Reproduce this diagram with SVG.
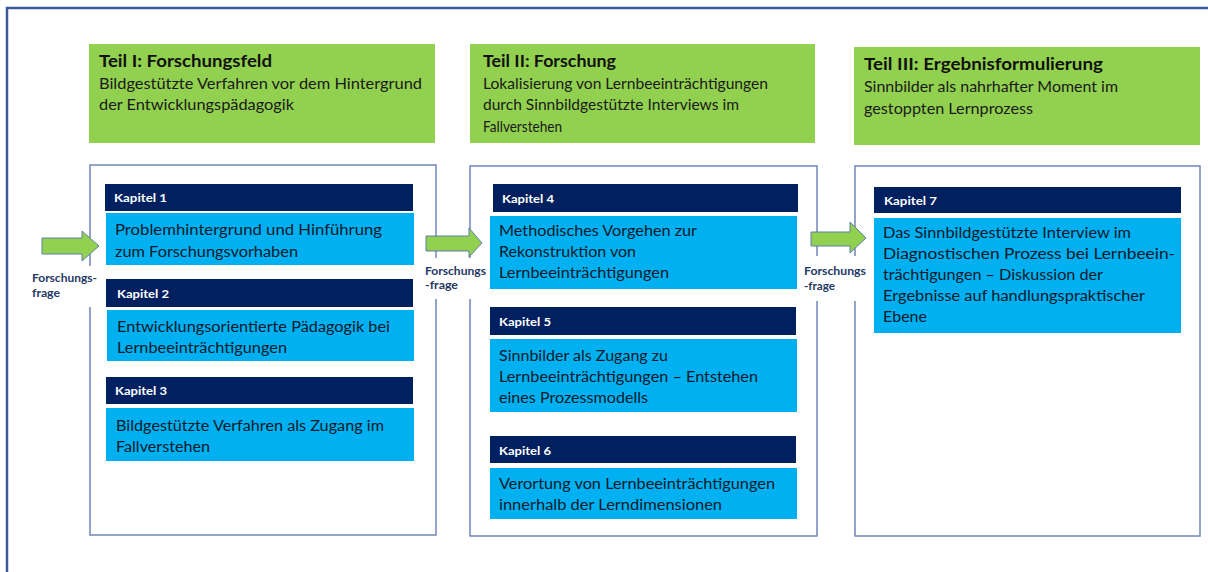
<svg xmlns="http://www.w3.org/2000/svg" width="1208" height="572" viewBox="0 0 1208 572">
<style>
.frame{fill:none;stroke:#3c5a9a;stroke-width:2.5}
.green{fill:#92d050}
.box{fill:#fff;stroke:#7186b8;stroke-width:1.5}
.hdr{fill:#002060}
.cnt{fill:#00b0f0}
.gap{fill:#fff}
.arrow{fill:#92d050;stroke:#5e7fa8;stroke-width:1}
.t{font-family:Lato,"Liberation Sans",sans-serif;font-weight:bold;font-size:17px;fill:#111}
.s{font-family:Lato,"Liberation Sans",sans-serif;font-size:15px;fill:#1a1a1a}
.k{font-family:Lato,"Liberation Sans",sans-serif;font-weight:bold;font-size:12px;fill:#fff}
.c{font-family:Lato,"Liberation Sans",sans-serif;font-size:15.5px;fill:#0b1a2c}
.f{font-family:Lato,"Liberation Sans",sans-serif;font-weight:bold;font-size:11px;fill:#1f3864}
</style>
<rect width="1208" height="572" fill="#fff"/>
<path class="frame" d="M7 572 V8 H1208"/>

<g id="teil1">
<rect class="green" x="89" y="44" width="346" height="99"/>
<text class="t" x="99" y="67" textLength="173" lengthAdjust="spacingAndGlyphs">Teil I: Forschungsfeld</text>
<text class="s" x="99" y="89" textLength="323" lengthAdjust="spacingAndGlyphs">Bildgestützte Verfahren vor dem Hintergrund</text>
<text class="s" x="99" y="110" textLength="195" lengthAdjust="spacingAndGlyphs">der Entwicklungspädagogik</text>
</g>
<g id="teil2">
<rect class="green" x="470" y="44" width="345" height="99"/>
<text class="t" x="483" y="67" textLength="133" lengthAdjust="spacingAndGlyphs">Teil II: Forschung</text>
<text class="s" x="483" y="89" textLength="285" lengthAdjust="spacingAndGlyphs">Lokalisierung von Lernbeeinträchtigungen</text>
<text class="s" x="483" y="110" textLength="256" lengthAdjust="spacingAndGlyphs">durch Sinnbildgestützte Interviews im</text>
<text class="s" x="483" y="132" textLength="79" lengthAdjust="spacingAndGlyphs">Fallverstehen</text>
</g>
<g id="teil3">
<rect class="green" x="854" y="47" width="346" height="98"/>
<text class="t" x="864" y="70" textLength="239" lengthAdjust="spacingAndGlyphs">Teil III: Ergebnisformulierung</text>
<text class="s" x="864" y="92" textLength="254" lengthAdjust="spacingAndGlyphs">Sinnbilder als nahrhafter Moment im</text>
<text class="s" x="864" y="114" textLength="169" lengthAdjust="spacingAndGlyphs">gestoppten Lernprozess</text>
</g>

<g id="box1"><rect class="box" x="90" y="165" width="346" height="370"/></g>
<g id="box2"><rect class="box" x="470" y="166" width="347" height="370"/></g>
<g id="box3"><rect class="box" x="855" y="166" width="345" height="370"/></g>

<g id="kapitel1">
<rect class="hdr" x="105" y="184" width="308" height="27"/>
<text class="k" x="114" y="202" textLength="53" lengthAdjust="spacingAndGlyphs">Kapitel 1</text>
<rect class="cnt" x="106" y="213" width="308" height="52"/>
<text class="c" x="115" y="235" textLength="267" lengthAdjust="spacingAndGlyphs">Problemhintergrund und  Hinführung</text>
<text class="c" x="115" y="257" textLength="183" lengthAdjust="spacingAndGlyphs">zum Forschungsvorhaben</text>
</g>
<g id="kapitel2">
<rect class="hdr" x="106" y="279" width="307" height="28"/>
<text class="k" x="117" y="298" textLength="52" lengthAdjust="spacingAndGlyphs">Kapitel 2</text>
<rect class="cnt" x="107" y="310" width="307" height="51"/>
<text class="c" x="117" y="332" textLength="273" lengthAdjust="spacingAndGlyphs">Entwicklungsorientierte Pädagogik bei</text>
<text class="c" x="117" y="353" textLength="170" lengthAdjust="spacingAndGlyphs">Lernbeeinträchtigungen</text>
</g>
<g id="kapitel3">
<rect class="hdr" x="106" y="377" width="307" height="27"/>
<text class="k" x="115" y="395" textLength="52" lengthAdjust="spacingAndGlyphs">Kapitel 3</text>
<rect class="cnt" x="106" y="408" width="308" height="53"/>
<text class="c" x="116" y="431" textLength="268" lengthAdjust="spacingAndGlyphs">Bildgestützte Verfahren als Zugang im</text>
<text class="c" x="116" y="452" textLength="94" lengthAdjust="spacingAndGlyphs">Fallverstehen</text>
</g>

<g id="kapitel4">
<rect class="hdr" x="493" y="184" width="305" height="28"/>
<text class="k" x="502" y="203" textLength="52" lengthAdjust="spacingAndGlyphs">Kapitel 4</text>
<rect class="cnt" x="490" y="216" width="307" height="73"/>
<text class="c" x="499" y="236" textLength="198" lengthAdjust="spacingAndGlyphs">Methodisches Vorgehen zur</text>
<text class="c" x="499" y="257" textLength="137" lengthAdjust="spacingAndGlyphs">Rekonstruktion von</text>
<text class="c" x="499" y="278" textLength="170" lengthAdjust="spacingAndGlyphs">Lernbeeinträchtigungen</text>
</g>
<g id="kapitel5">
<rect class="hdr" x="490" y="307" width="306" height="28"/>
<text class="k" x="499" y="326" textLength="52" lengthAdjust="spacingAndGlyphs">Kapitel 5</text>
<rect class="cnt" x="490" y="339" width="307" height="73"/>
<text class="c" x="499" y="361" textLength="169" lengthAdjust="spacingAndGlyphs">Sinnbilder als Zugang zu</text>
<text class="c" x="499" y="382" textLength="259" lengthAdjust="spacingAndGlyphs">Lernbeeinträchtigungen – Entstehen</text>
<text class="c" x="499" y="403" textLength="149" lengthAdjust="spacingAndGlyphs">eines Prozessmodells</text>
</g>
<g id="kapitel6">
<rect class="hdr" x="490" y="436" width="306" height="27"/>
<text class="k" x="499" y="455" textLength="52" lengthAdjust="spacingAndGlyphs">Kapitel 6</text>
<rect class="cnt" x="490" y="468" width="307" height="51"/>
<text class="c" x="499" y="489" textLength="276" lengthAdjust="spacingAndGlyphs">Verortung von Lernbeeinträchtigungen</text>
<text class="c" x="499" y="510" textLength="223" lengthAdjust="spacingAndGlyphs">innerhalb der Lerndimensionen</text>
</g>

<g id="kapitel7">
<rect class="hdr" x="874" y="187" width="307" height="26"/>
<text class="k" x="884" y="205" textLength="53" lengthAdjust="spacingAndGlyphs">Kapitel 7</text>
<rect class="cnt" x="874" y="218" width="307" height="115"/>
<text class="c" x="883" y="238" textLength="248" lengthAdjust="spacingAndGlyphs">Das Sinnbildgestützte Interview im</text>
<text class="c" x="883" y="259" textLength="292" lengthAdjust="spacingAndGlyphs">Diagnostischen Prozess bei Lernbeein-</text>
<text class="c" x="883" y="280" textLength="220" lengthAdjust="spacingAndGlyphs">trächtigungen – Diskussion der</text>
<text class="c" x="883" y="301" textLength="262" lengthAdjust="spacingAndGlyphs">Ergebnisse auf handlungspraktischer</text>
<text class="c" x="883" y="322" textLength="44" lengthAdjust="spacingAndGlyphs">Ebene</text>
</g>

<g id="connectors">
<rect class="gap" x="26" y="266" width="74" height="41"/>
<rect class="gap" x="420" y="258" width="68" height="41"/>
<rect class="gap" x="800" y="256" width="70" height="45"/>
<path class="arrow" d="M42 238 H82 V231 L99 246 L82 261 V254 H42 Z"/>
<path class="arrow" d="M426 236 H469 V228 L482 243 L469 257 V251 H426 Z"/>
<path class="arrow" d="M811 232 H850 V222 L866 238 L850 253 V246 H811 Z"/>
<text class="f" x="32" y="282" textLength="65" lengthAdjust="spacingAndGlyphs">Forschungs-</text>
<text class="f" x="32" y="297" textLength="28" lengthAdjust="spacingAndGlyphs">frage</text>
<text class="f" x="425" y="275" textLength="61" lengthAdjust="spacingAndGlyphs">Forschungs</text>
<text class="f" x="425" y="289" textLength="33" lengthAdjust="spacingAndGlyphs">-frage</text>
<text class="f" x="804" y="275" textLength="62" lengthAdjust="spacingAndGlyphs">Forschungs</text>
<text class="f" x="804" y="290" textLength="31" lengthAdjust="spacingAndGlyphs">-frage</text>
</g>
</svg>
